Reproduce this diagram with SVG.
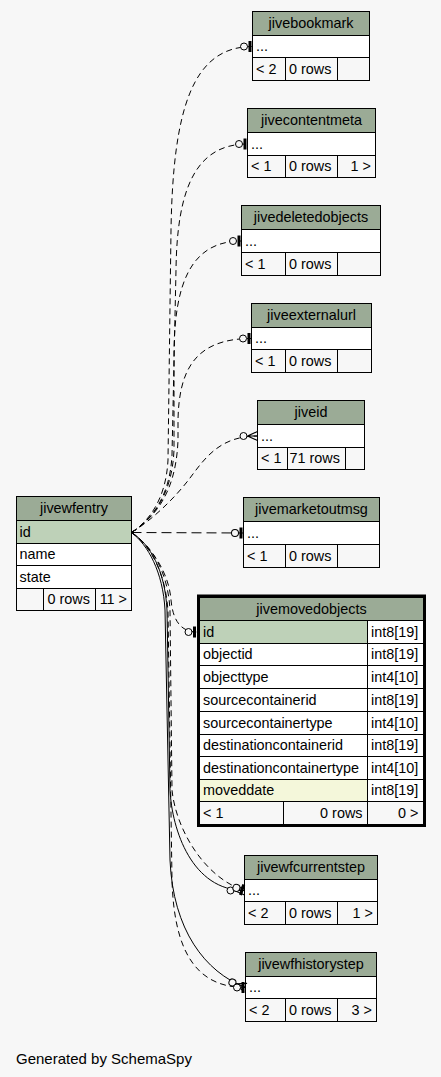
<svg xmlns="http://www.w3.org/2000/svg" width="441" height="1077" viewBox="0 0 441 1077">
<style>
text{font-family:"Liberation Sans",Arial,Helvetica,sans-serif;font-size:14.4px;fill:#000}
.c{text-anchor:middle}
.e{text-anchor:end}
.hdr{fill:#9bab96;stroke:#000;stroke-width:1}
.row{fill:#fff;stroke:#000;stroke-width:1}
.pk{fill:#bed1b8;stroke:#000;stroke-width:1}
.idx{fill:#f4f7da;stroke:#000;stroke-width:1}
.ftr{fill:#f7f7f7;stroke:#000;stroke-width:1}
.thick{fill:none;stroke:#000;stroke-width:3}
.dash{fill:none;stroke:#000;stroke-width:1;stroke-dasharray:6,4}
.dashl{fill:none;stroke:#000;stroke-width:1;stroke-dasharray:10,5}
.solid{fill:none;stroke:#000;stroke-width:1}
.tee{marker-end:url(#tee)}
.crow{marker-end:url(#crow)}
</style>
<defs>
<marker id="tee" markerUnits="userSpaceOnUse" viewBox="-14 -7 14 14" refX="0" refY="0" markerWidth="14" markerHeight="14" orient="auto" overflow="visible">
<circle cx="-8.5" cy="0" r="3.5" fill="#f7f7f7" stroke="#000" stroke-width="1"/>
<rect x="-4" y="-5.5" width="3" height="11" fill="#000"/>
</marker>
<marker id="crow" markerUnits="userSpaceOnUse" viewBox="-18 -7 18 14" refX="0" refY="0" markerWidth="18" markerHeight="14" orient="auto" overflow="visible">
<path d="M-10,0 L0,-4.5 M-10,0 L0,0 M-10,0 L0,4.5" fill="none" stroke="#000" stroke-width="1.2"/>
<circle cx="-14" cy="0" r="3.5" fill="#f7f7f7" stroke="#000" stroke-width="1"/>
</marker>
</defs>
<rect x="0" y="0" width="441" height="1077" fill="#f7f7f7"/>

<g id="jivebookmark">
<rect class="hdr" x="252.5" y="11.5" width="117" height="24"/>
<rect class="row" x="252.5" y="35.5" width="117" height="22"/>
<rect class="ftr" x="252.5" y="57.5" width="33" height="23"/>
<rect class="ftr" x="285.5" y="57.5" width="52" height="23"/>
<rect class="ftr" x="337.5" y="57.5" width="32" height="23"/>
<text class="c" x="311" y="28.2">jivebookmark</text>
<text x="256" y="51.2">...</text>
<text x="256" y="73.7">&lt; 2</text>
<text x="289" y="73.7">0 rows</text>
</g>

<g id="jivecontentmeta">
<rect class="hdr" x="247.5" y="108.5" width="128" height="24"/>
<rect class="row" x="247.5" y="132.5" width="128" height="23"/>
<rect class="ftr" x="247.5" y="155.5" width="38" height="22"/>
<rect class="ftr" x="285.5" y="155.5" width="52" height="22"/>
<rect class="ftr" x="337.5" y="155.5" width="38" height="22"/>
<text class="c" x="311.5" y="125.2">jivecontentmeta</text>
<text x="251" y="148.7">...</text>
<text x="251" y="171.2">&lt; 1</text>
<text x="289" y="171.2">0 rows</text>
<text class="e" x="371" y="171.2">1 &gt;</text>
</g>

<g id="jivedeletedobjects">
<rect class="hdr" x="241.5" y="205.5" width="139" height="24"/>
<rect class="row" x="241.5" y="229.5" width="139" height="23"/>
<rect class="ftr" x="241.5" y="252.5" width="44" height="23"/>
<rect class="ftr" x="285.5" y="252.5" width="52" height="23"/>
<rect class="ftr" x="337.5" y="252.5" width="43" height="23"/>
<text class="c" x="311" y="222.2">jivedeletedobjects</text>
<text x="245" y="245.7">...</text>
<text x="245" y="268.7">&lt; 1</text>
<text x="289" y="268.7">0 rows</text>
</g>

<g id="jiveexternalurl">
<rect class="hdr" x="251.5" y="303.5" width="120" height="24"/>
<rect class="row" x="251.5" y="327.5" width="120" height="22"/>
<rect class="ftr" x="251.5" y="349.5" width="34" height="23"/>
<rect class="ftr" x="285.5" y="349.5" width="52" height="23"/>
<rect class="ftr" x="337.5" y="349.5" width="34" height="23"/>
<text class="c" x="311.5" y="320.2">jiveexternalurl</text>
<text x="255" y="343.2">...</text>
<text x="255" y="365.7">&lt; 1</text>
<text x="289" y="365.7">0 rows</text>
</g>

<g id="jiveid">
<rect class="hdr" x="257.5" y="400.5" width="107" height="24"/>
<rect class="row" x="257.5" y="424.5" width="107" height="23"/>
<rect class="ftr" x="257.5" y="447.5" width="30" height="22"/>
<rect class="ftr" x="287.5" y="447.5" width="58" height="22"/>
<rect class="ftr" x="345.5" y="447.5" width="19" height="22"/>
<text class="c" x="311" y="417.2">jiveid</text>
<text x="261" y="440.7">...</text>
<text x="261" y="463.2">&lt; 1</text>
<text x="289.5" y="463.2">71 rows</text>
</g>

<g id="jivemarketoutmsg">
<rect class="hdr" x="243.5" y="497.5" width="136" height="24"/>
<rect class="row" x="243.5" y="521.5" width="136" height="23"/>
<rect class="ftr" x="243.5" y="544.5" width="42" height="23"/>
<rect class="ftr" x="285.5" y="544.5" width="52" height="23"/>
<rect class="ftr" x="337.5" y="544.5" width="42" height="23"/>
<text class="c" x="311.5" y="514.2">jivemarketoutmsg</text>
<text x="247" y="537.7">...</text>
<text x="247" y="560.7">&lt; 1</text>
<text x="289" y="560.7">0 rows</text>
</g>

<g id="jivewfentry">
<rect class="hdr" x="16.5" y="496.5" width="115" height="24"/>
<rect class="pk" x="16.5" y="520.5" width="115" height="23"/>
<rect class="row" x="16.5" y="543.5" width="115" height="22"/>
<rect class="row" x="16.5" y="565.5" width="115" height="23"/>
<rect class="ftr" x="16.5" y="588.5" width="27" height="22"/>
<rect class="ftr" x="43.5" y="588.5" width="52" height="22"/>
<rect class="ftr" x="95.5" y="588.5" width="36" height="22"/>
<text class="c" x="74" y="513.2">jivewfentry</text>
<text x="19.5" y="536.7">id</text>
<text x="19.5" y="559.2">name</text>
<text x="19.5" y="581.7">state</text>
<text x="47.5" y="604.2">0 rows</text>
<text class="e" x="127" y="604.2">11 &gt;</text>
</g>

<g id="jivemovedobjects">
<rect class="hdr" x="199.5" y="597.5" width="224" height="23"/>
<rect class="pk" x="199.5" y="620.5" width="168" height="23"/>
<rect class="row" x="367.5" y="620.5" width="56" height="23"/>
<rect class="row" x="199.5" y="643.5" width="168" height="22"/>
<rect class="row" x="367.5" y="643.5" width="56" height="22"/>
<rect class="row" x="199.5" y="665.5" width="168" height="23"/>
<rect class="row" x="367.5" y="665.5" width="56" height="23"/>
<rect class="row" x="199.5" y="688.5" width="168" height="23"/>
<rect class="row" x="367.5" y="688.5" width="56" height="23"/>
<rect class="row" x="199.5" y="711.5" width="168" height="23"/>
<rect class="row" x="367.5" y="711.5" width="56" height="23"/>
<rect class="row" x="199.5" y="734.5" width="168" height="22"/>
<rect class="row" x="367.5" y="734.5" width="56" height="22"/>
<rect class="row" x="199.5" y="756.5" width="168" height="23"/>
<rect class="row" x="367.5" y="756.5" width="56" height="23"/>
<rect class="idx" x="199.5" y="779.5" width="168" height="22"/>
<rect class="row" x="367.5" y="779.5" width="56" height="22"/>
<rect class="ftr" x="199.5" y="801.5" width="84" height="23"/>
<rect class="ftr" x="283.5" y="801.5" width="84" height="23"/>
<rect class="ftr" x="367.5" y="801.5" width="56" height="23"/>
<rect class="thick" x="198.5" y="596" width="226" height="229.5"/>
<text class="c" x="311.5" y="613.7">jivemovedobjects</text>
<text x="203" y="636.7">id</text>
<text x="371" y="636.7">int8[19]</text>
<text x="203" y="659.2">objectid</text>
<text x="371" y="659.2">int8[19]</text>
<text x="203" y="681.7">objecttype</text>
<text x="371" y="681.7">int4[10]</text>
<text x="203" y="704.7">sourcecontainerid</text>
<text x="371" y="704.7">int8[19]</text>
<text x="203" y="727.7">sourcecontainertype</text>
<text x="371" y="727.7">int4[10]</text>
<text x="203" y="750.2">destinationcontainerid</text>
<text x="371" y="750.2">int8[19]</text>
<text x="203" y="772.7">destinationcontainertype</text>
<text x="371" y="772.7">int4[10]</text>
<text x="203" y="795.2">moveddate</text>
<text x="371" y="795.2">int8[19]</text>
<text x="203" y="817.7">&lt; 1</text>
<text class="e" x="362.5" y="817.7">0 rows</text>
<text class="e" x="418.5" y="817.7">0 &gt;</text>
</g>

<g id="jivewfcurrentstep">
<rect class="hdr" x="244.5" y="855.5" width="133" height="24"/>
<rect class="row" x="244.5" y="879.5" width="133" height="22"/>
<rect class="ftr" x="244.5" y="901.5" width="41" height="23"/>
<rect class="ftr" x="285.5" y="901.5" width="52" height="23"/>
<rect class="ftr" x="337.5" y="901.5" width="40" height="23"/>
<text class="c" x="311" y="872.2">jivewfcurrentstep</text>
<text x="248" y="895.2">...</text>
<text x="248" y="917.7">&lt; 2</text>
<text x="289" y="917.7">0 rows</text>
<text class="e" x="373" y="917.7">1 &gt;</text>
</g>

<g id="jivewfhistorystep">
<rect class="hdr" x="245.5" y="952.5" width="131" height="24"/>
<rect class="row" x="245.5" y="976.5" width="131" height="22"/>
<rect class="ftr" x="245.5" y="998.5" width="40" height="23"/>
<rect class="ftr" x="285.5" y="998.5" width="52" height="23"/>
<rect class="ftr" x="337.5" y="998.5" width="39" height="23"/>
<text class="c" x="311" y="969.2">jivewfhistorystep</text>
<text x="249" y="992.2">...</text>
<text x="249" y="1014.7">&lt; 2</text>
<text x="289" y="1014.7">0 rows</text>
<text class="e" x="372" y="1014.7">3 &gt;</text>
</g>

<g id="connectors">
<path class="dash tee" d="M131.5,532.5 C148,522 166,500 168,460 L171,230 C173,110 192,46.5 252.5,46.5"/>
<path class="dash tee" d="M131.5,532.5 C150,521 170,498 172,455 L176,270 C177,190 195,144 247.5,144"/>
<path class="dash tee" d="M131.5,532.5 C151,520 172,497 174,450 L174,350 C175,285 190,241 241.5,241"/>
<path class="dash tee" d="M131.5,532.5 C152,519 176,496 178,440 L178,420 C179,370 195,338.5 251.5,338.5"/>
<path class="dash crow" d="M131.5,532.5 C152,520 175,498 190,478 C205,458 220,436 257.5,436"/>
<path class="dashl tee" d="M131.5,532.5 L243.5,533"/>
<path class="dash tee" d="M131.5,532.5 C150,545 169,572 171,600 C173,622 182,632 197,632"/>
<path class="solid crow" d="M131.5,532.5 C150,544 165,570 167,610 L170,790 C172,830 192,890.5 244.5,890.5"/>
<path class="dash tee" d="M131.5,532.5 C152,546 168,572 170,610 L172,790 C176,830 205,878 244.5,890.5"/>
<path class="solid crow" d="M131.5,532.5 C148,545 163,572 165,610 L170,860 C173,930 205,972 245.5,987.5"/>
<path class="dash tee" d="M131.5,532.5 C151,546 166,574 168,612 L172,880 C174,950 195,987.5 245.5,987.5"/>
</g>

<text x="16" y="1064" style="font-size:15px">Generated by SchemaSpy</text>
</svg>
